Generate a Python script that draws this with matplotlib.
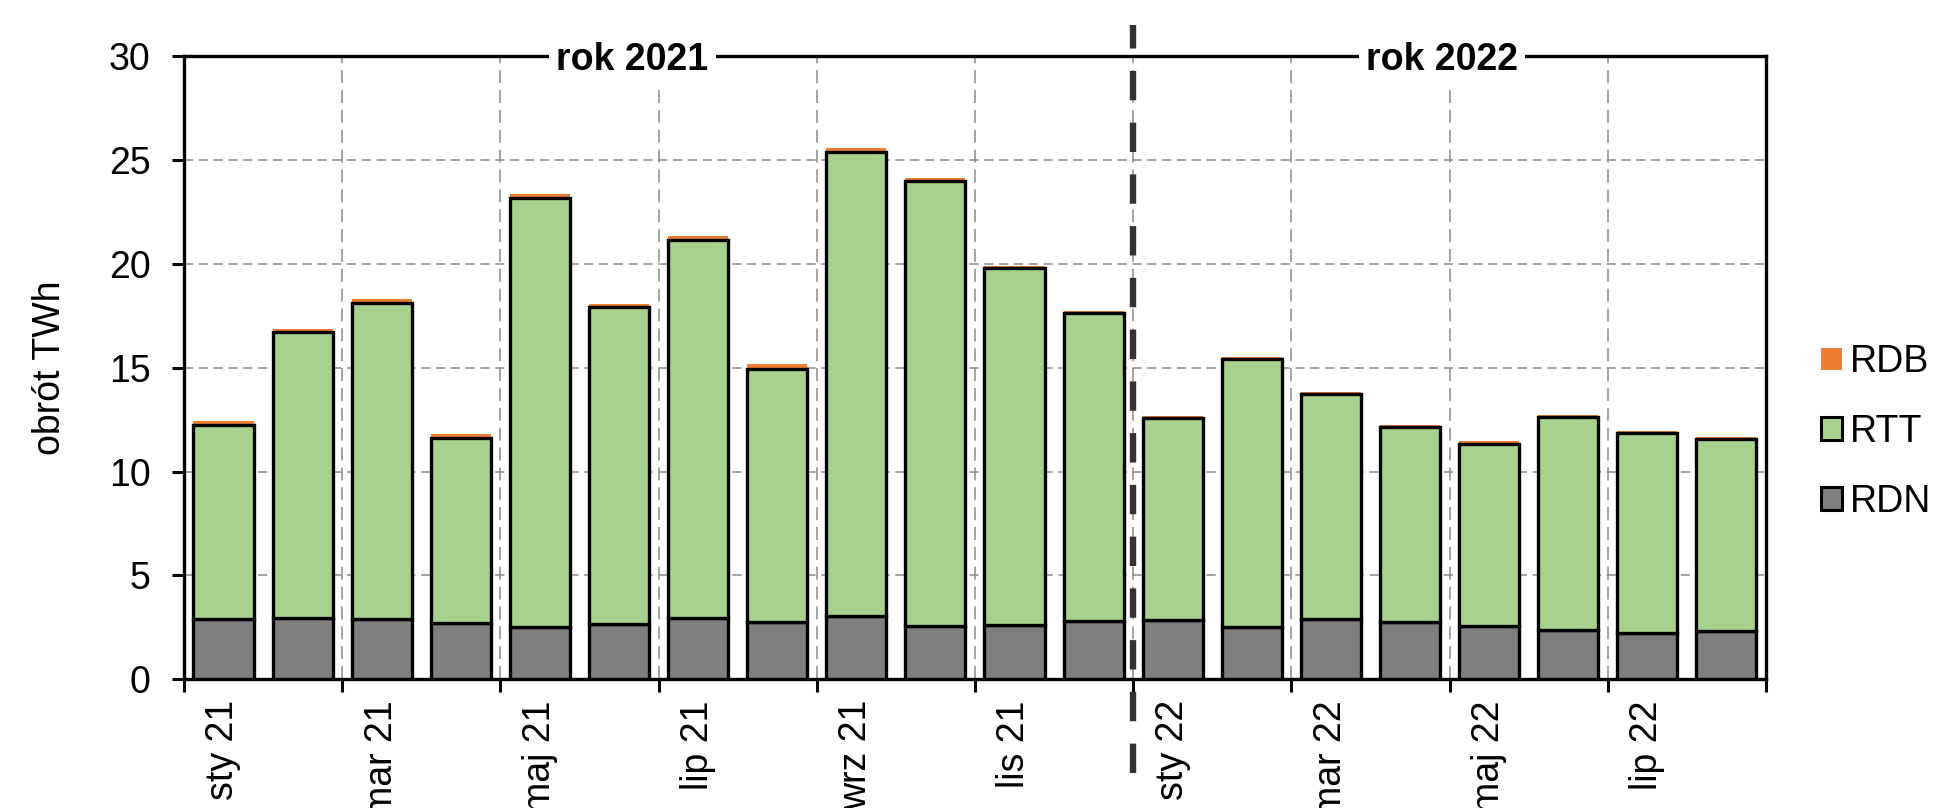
import matplotlib
matplotlib.use("Agg")
import matplotlib.pyplot as plt
import matplotlib.transforms as mtransforms
from matplotlib.patches import Patch
import numpy as np

plt.rcParams['font.family'] = ['Liberation Sans', 'DejaVu Sans']

# months Jan 2021 - Aug 2022
months = ['sty 21', 'lut 21', 'mar 21', 'kwi 21', 'maj 21', 'cze 21',
          'lip 21', 'sie 21', 'wrz 21', 'paź 21', 'lis 21', 'gru 21',
          'sty 22', 'lut 22', 'mar 22', 'kwi 22', 'maj 22', 'cze 22',
          'lip 22', 'sie 22']

# obrót TWh
rdn = [2.90, 2.97, 2.90, 2.71, 2.54, 2.65, 2.95, 2.76, 3.07, 2.55,
       2.62, 2.81, 2.84, 2.50, 2.90, 2.78, 2.57, 2.36, 2.23, 2.31]
rtt = [9.35, 13.74, 15.22, 8.89, 20.64, 15.26, 18.22, 12.21, 22.33, 21.45,
       17.17, 14.81, 9.74, 12.92, 10.84, 9.37, 8.77, 10.27, 9.64, 9.27]
rdb = [0.21, 0.18, 0.21, 0.22, 0.21, 0.18, 0.16, 0.21, 0.19, 0.13,
       0.12, 0.11, 0.11, 0.10, 0.10, 0.12, 0.13, 0.10, 0.10, 0.11]

year_labels = ['rok 2021', 'rok 2022']

c_rdn = '#7f7f7f'
c_rtt = '#a9d18e'
c_rdb = '#ed7d31'

fig = plt.figure(figsize=(19.4, 8.08), dpi=100)
ax = fig.add_axes([0.0948, 0.1593, 0.8155, 0.7708])

x = np.arange(len(months))
rdn = np.array(rdn)
rtt = np.array(rtt)
rdb = np.array(rdb)
w = 0.76

ax.bar(x, rdb, w, bottom=rdn + rtt, color=c_rdb, edgecolor='none', zorder=2)
ax.bar(x, rdn, w, color=c_rdn, edgecolor='black', linewidth=2.4, zorder=3)
ax.bar(x, rtt, w, bottom=rdn, color=c_rtt, edgecolor='black', linewidth=2.4, zorder=3)

ax.set_xlim(-0.5, len(months) - 0.5)
ax.set_ylim(0, 30)
ax.set_yticks(np.arange(0, 31, 5))

# tick marks on category boundaries, labels on every second month
ax.set_xticks(np.arange(-0.5, len(months), 2))
ax.set_xticklabels([])
ax.set_xticks(x[::2], minor=True)
ax.set_xticklabels(months[::2], minor=True, rotation=90, ha='center', va='top')
ax.tick_params(axis='x', which='major', length=9, width=2.2, direction='out')
ax.tick_params(axis='x', which='minor', length=0, pad=15, labelsize=27)
ax.tick_params(axis='y', length=9, width=2.2, pad=15, labelsize=27)

ax.set_axisbelow(True)
ax.yaxis.grid(True, color='#8a8a8a', linewidth=1.1, linestyle=(0, (6.0, 3.7)))
ax.xaxis.grid(True, which='major', color='#8a8a8a', linewidth=1.1, linestyle=(0, (8.5, 4.5)))

for s in ax.spines.values():
    s.set_linewidth(2.4)
    s.set_color('black')

ax.set_ylabel('obrót TWh', fontsize=27)
ax.yaxis.set_label_coords(-0.073, 0.5)

# year divider
trans = mtransforms.blended_transform_factory(ax.transData, ax.transAxes)
ax.plot([11.5, 11.5], [-0.15, 1.05], transform=trans, color='#333333',
        linewidth=4.6, linestyle=(0, (4.6, 3.5)), clip_on=False, zorder=5)

ax.text(5.17, 29.35, year_labels[0], ha='center', va='baseline', fontsize=27,
        fontweight='bold', clip_on=False, zorder=6,
        bbox=dict(facecolor='white', edgecolor='none', pad=5))
ax.text(15.4, 29.35, year_labels[1], ha='center', va='baseline', fontsize=27,
        fontweight='bold', clip_on=False, zorder=6,
        bbox=dict(facecolor='white', edgecolor='none', pad=5))

handles = [Patch(facecolor=c_rdb, edgecolor='none'),
           Patch(facecolor=c_rtt, edgecolor='black', linewidth=2.2),
           Patch(facecolor=c_rdn, edgecolor='black', linewidth=2.2)]
fig.legend(handles, ['RDB', 'RTT', 'RDN'], loc='center left',
           bbox_to_anchor=(1821 / 1940, 1 - 432 / 808), frameon=False,
           fontsize=27, handlelength=0.56, handleheight=0.56,
           handletextpad=0.22, labelspacing=0.9, borderpad=0, borderaxespad=0)

fig.savefig('out.png', dpi=100)
